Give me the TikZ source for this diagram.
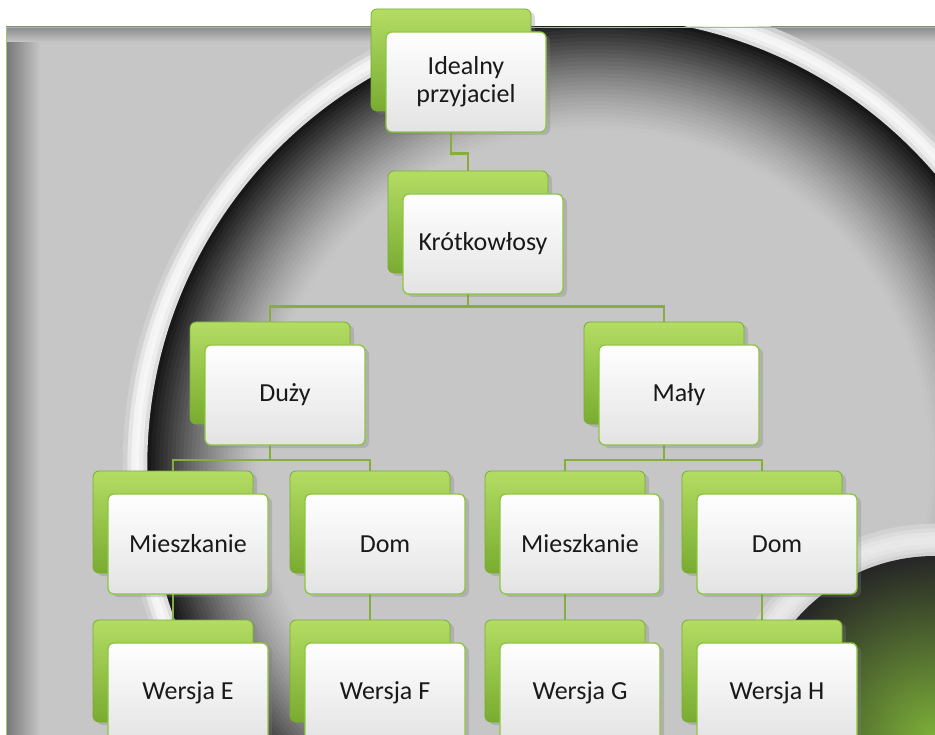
\documentclass[tikz,border=0pt]{standalone}
\usepackage{fontspec}
\setmainfont{Carlito}
\usepackage{pgf,tikz}
\usetikzlibrary{calc}
\usetikzlibrary{shadows}

\definecolor{leaf}{HTML}{8CC63F}
\definecolor{leafdark}{HTML}{78AC30}
\definecolor{leaflight}{HTML}{B4DC64}
\definecolor{wire}{HTML}{86AE3E}
\definecolor{bggray}{HTML}{C6C6C6}

\pgfdeclarelayer{back}
\pgfdeclarelayer{wires}
\pgfsetlayers{back,wires,main}

\tikzset{
  backcard/.style={rectangle,rounded corners=6pt,minimum width=160pt,minimum height=102pt,
    top color=leaflight,bottom color=leafdark,draw=leafdark,line width=.8pt,
    drop shadow={shadow xshift=4pt,shadow yshift=-3pt,opacity=.3}},
  card/.style={rectangle,rounded corners=6pt,minimum width=160pt,minimum height=100pt,
    top color=white,bottom color=black!11,draw=leaf,line width=1.3pt,
    align=center,text=black!90,font=\fontsize{26}{28}\selectfont,
    drop shadow={shadow xshift=4pt,shadow yshift=-3pt,opacity=.3}},
  link/.style={wire,line width=2.2pt}
}

\begin{document}
\begin{tikzpicture}[x=1pt,y=-1pt]
\useasboundingbox (0,0) rectangle (935,735);
\begin{pgfonlayer}{back}
\fill[bggray] (6,27) rectangle (935,735);
\begin{scope}
\clip (6,27) rectangle (935,735);
\shade[left color=black!40!bggray,right color=bggray] (6,27) rectangle (40,735);
\shade[top color=black!30!bggray,bottom color=bggray] (6,27) rectangle (935,42);
\foreach \i in {28,27,...,0} {%ring, dark side
  \pgfmathsetmacro\p{88*(1-\i/28)^1.3}
  \pgfmathsetmacro\r{446-4*\i}
  \draw[line width=4.6pt,black!\p!bggray] (595,465) circle (\r pt);}
\foreach \i in {1,...,6} {%ring, light side
  \pgfmathsetmacro\p{85*sin(\i*28)}
  \pgfmathsetmacro\r{446+4*\i}
  \draw[line width=4.6pt,white!\p!bggray] (595,465) circle (\r pt);}
\foreach \i in {1,...,8} {%halo
  \pgfmathsetmacro\p{60*sin(\i*20)}
  \pgfmathsetmacro\r{182+4*\i}
  \draw[line width=4.6pt,white!\p!bggray] (935,740) circle (\r pt);}
\shade[inner color=leaf!90!black,outer color=black!85] (935,740) circle (184pt);
\end{scope}
\draw[leafdark!70,line width=.8pt] (6,735) -- (6,27) -- (935,27);
\end{pgfonlayer}

\foreach \n/\x/\y/\t in {root/451/60/{Idealny\\przyjaciel},kr/468/222/Krótkowłosy,
    duzy/270/373/Duży,maly/664/373/Mały,
    mieszA/173/522/Mieszkanie,domA/370/522/Dom,mieszB/565/522/Mieszkanie,domB/762/522/Dom,
    wersE/173/671/Wersja E,wersF/370/671/Wersja F,wersG/565/671/Wersja G,wersH/762/671/Wersja H}
  {\node[backcard] (\n-b) at (\x,\y) {};
   \node[card] (\n) at (\x+15,\y+22) {\t};}

\begin{pgfonlayer}{wires}
\draw[link] (root-b) |- ([yshift=17pt]kr-b.north) -- (kr-b.north);
\foreach \a/\b in {kr/duzy,kr/maly}
  \draw[link] (\a-b) |- ([yshift=15pt]\b-b.north) -- (\b-b.north);
\foreach \a/\b in {duzy/mieszA,duzy/domA,maly/mieszB,maly/domB}
  \draw[link] (\a-b) |- ([yshift=11pt]\b-b.north) -- (\b-b.north);
\foreach \a/\b in {mieszA/wersE,domA/wersF,mieszB/wersG,domB/wersH}
  \draw[link] (\a-b) -- (\b-b.north);
\end{pgfonlayer}
\end{tikzpicture}
\end{document}
